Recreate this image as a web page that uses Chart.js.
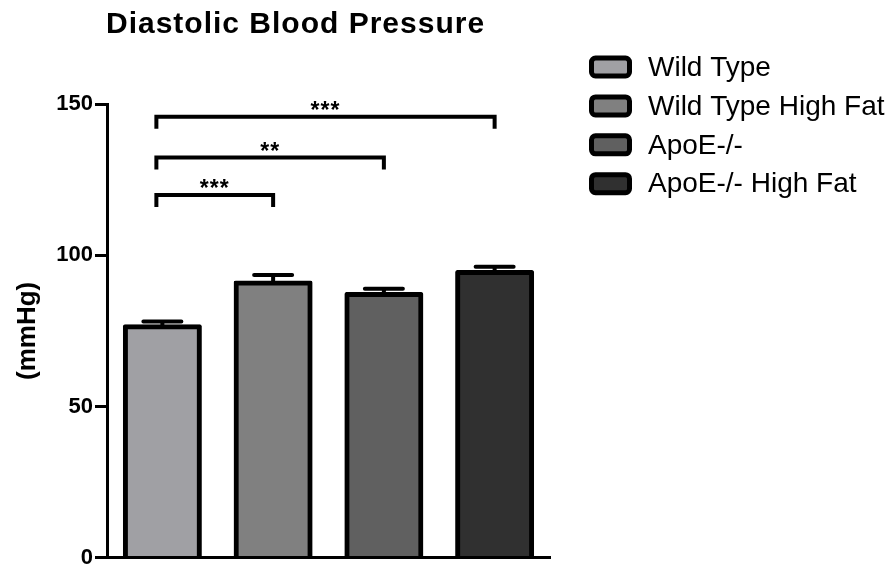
<!DOCTYPE html>
<html>
<head>
<meta charset="utf-8">
<title>Diastolic Blood Pressure</title>
<script src="https://cdn.jsdelivr.net/npm/chart.js@4.4.1/dist/chart.umd.min.js"></script>
<style>
  html, body { margin: 0; padding: 0; background: #ffffff; }
  #wrap { position: relative; width: 896px; height: 573px; }
</style>
</head>
<body>
<div id="wrap"><canvas id="bp"></canvas></div>
<script>
// Groups and their mean diastolic pressure (mmHg) with SEM
const groups = ['Wild Type', 'Wild Type High Fat', 'ApoE-/-', 'ApoE-/- High Fat'];
const meanPressure = [76.4, 90.8, 87.0, 94.3];
const semPressure = [1.7, 2.7, 1.9, 1.9];
const groupColors = ['#a0a0a4', '#808080', '#606060', '#303030'];

// Y axis ticks
const yMin = 0;
const yMax = 150;
const yStep = 50;

// Pairwise comparisons: bracket from group index to group index, at a level (mmHg)
const sigFrom = [0, 0, 0];
const sigTo = [3, 2, 1];
const sigLevel = [145.8, 132.3, 119.9];
const sigLabel = ['***', '**', '***'];

const FONT = "'Liberation Sans', Arial, sans-serif";

// One dataset per group so each bar gets its own legend entry
const datasets = groups.map((g, i) => ({
  label: g,
  data: groups.map((_, j) => (j === i ? meanPressure[i] : null)),
  backgroundColor: groupColors[i],
  borderColor: '#000000',
  borderWidth: 5,
  inflateAmount: 2.5,
  borderRadius: 2,
  clip: { left: false, right: false, top: false, bottom: 0 }
}));

const errorBarPlugin = {
  id: 'errorBars',
  afterDatasetsDraw(chart) {
    const ctx = chart.ctx;
    const x = chart.scales.x, y = chart.scales.y;
    ctx.save();
    ctx.strokeStyle = '#000000';
    ctx.lineWidth = 4;
    ctx.lineCap = 'round';
    meanPressure.forEach((m, i) => {
      const cx = x.getPixelForValue(i);
      const y0 = y.getPixelForValue(m);
      const y1 = y.getPixelForValue(m + semPressure[i]);
      ctx.beginPath();
      ctx.moveTo(cx, y0);
      ctx.lineTo(cx, y1);
      ctx.moveTo(cx - 19, y1);
      ctx.lineTo(cx + 19, y1);
      ctx.stroke();
    });
    ctx.restore();
  }
};

const bracketPlugin = {
  id: 'sigBrackets',
  afterDatasetsDraw(chart) {
    const ctx = chart.ctx;
    const x = chart.scales.x, y = chart.scales.y;
    ctx.save();
    ctx.strokeStyle = '#000000';
    ctx.lineWidth = 4;
    ctx.lineJoin = 'miter';
    ctx.lineCap = 'butt';
    ctx.fillStyle = '#000000';
    ctx.font = 'bold 23px ' + FONT;
    ctx.textAlign = 'center';
    ctx.textBaseline = 'alphabetic';
    sigLevel.forEach((lvl, k) => {
      const xa = x.getPixelForValue(sigFrom[k]) - 6;
      const xb = x.getPixelForValue(sigTo[k]);
      const yl = y.getPixelForValue(lvl);
      ctx.beginPath();
      ctx.moveTo(xa, yl + 12);
      ctx.lineTo(xa, yl);
      ctx.lineTo(xb, yl);
      ctx.lineTo(xb, yl + 12);
      ctx.stroke();
      if ('letterSpacing' in ctx) ctx.letterSpacing = '1px';
      ctx.fillText(sigLabel[k], (xa + xb) / 2, yl + 1);
      if ('letterSpacing' in ctx) ctx.letterSpacing = '0px';
    });
    ctx.restore();
  }
};

const titleLegendPlugin = {
  id: 'titleLegend',
  afterDraw(chart) {
    const ctx = chart.ctx;
    ctx.save();
    // title
    ctx.fillStyle = '#000000';
    ctx.font = 'bold 30px ' + FONT;
    ctx.textAlign = 'left';
    ctx.textBaseline = 'alphabetic';
    if ('letterSpacing' in ctx) ctx.letterSpacing = '1px';
    ctx.fillText('Diastolic Blood Pressure', 106, 33);
    if ('letterSpacing' in ctx) ctx.letterSpacing = '0px';
    // legend
    const rowTop = 67, rowGap = 38.9;
    chart.data.datasets.forEach((ds, i) => {
      const cy = rowTop + i * rowGap;
      const bx = 589, bw = 43, bh = 23;
      const r = 4;
      const lx = bx + 2.5, ly = cy - bh / 2 + 2.5, lw = bw - 5, lh = bh - 5;
      ctx.beginPath();
      ctx.roundRect(lx, ly, lw, lh, r);
      ctx.fillStyle = ds.backgroundColor;
      ctx.fill();
      ctx.lineWidth = 5;
      ctx.strokeStyle = '#000000';
      ctx.stroke();
      ctx.fillStyle = '#000000';
      ctx.font = '28px ' + FONT;
      ctx.textBaseline = 'middle';
      ctx.fillText(ds.label, 648, cy + 1);
    });
    ctx.restore();
  }
};

new Chart(document.getElementById('bp'), {
  type: 'bar',
  data: { labels: groups, datasets },
  options: {
    responsive: true,
    maintainAspectRatio: false,
    animation: false,
    layout: { padding: { left: 0, right: 346, top: 104, bottom: 14.5 } },
    datasets: {
      bar: { grouped: true, skipNull: true, barPercentage: 0.668, categoryPercentage: 1 }
    },
    plugins: {
      legend: { display: false },
      title: { display: false },
      tooltip: { enabled: false }
    },
    scales: {
      x: {
        grid: { display: false, drawTicks: false },
        ticks: { display: false },
        border: { display: true, color: '#000000', width: 3, z: 1 },
        afterFit(scale) { scale.height = 0; }
      },
      y: {
        min: yMin,
        max: yMax,
        ticks: {
          stepSize: yStep,
          color: '#000000',
          padding: 2,
          font: { family: FONT, size: 22, weight: 'bold' }
        },
        grid: {
          drawOnChartArea: false,
          drawTicks: true,
          tickLength: 12,
          color: '#000000',
          lineWidth: 3
        },
        border: { display: true, color: '#000000', width: 3 },
        title: {
          display: true,
          text: '(mmHg)',
          color: '#000000',
          font: { family: FONT, size: 26, weight: 'bold' },
          padding: { top: 12, bottom: 0 }
        },
        afterFit(scale) { scale.width = 107; }
      }
    }
  },
  plugins: [errorBarPlugin, bracketPlugin, titleLegendPlugin]
});
</script>
</body>
</html>
